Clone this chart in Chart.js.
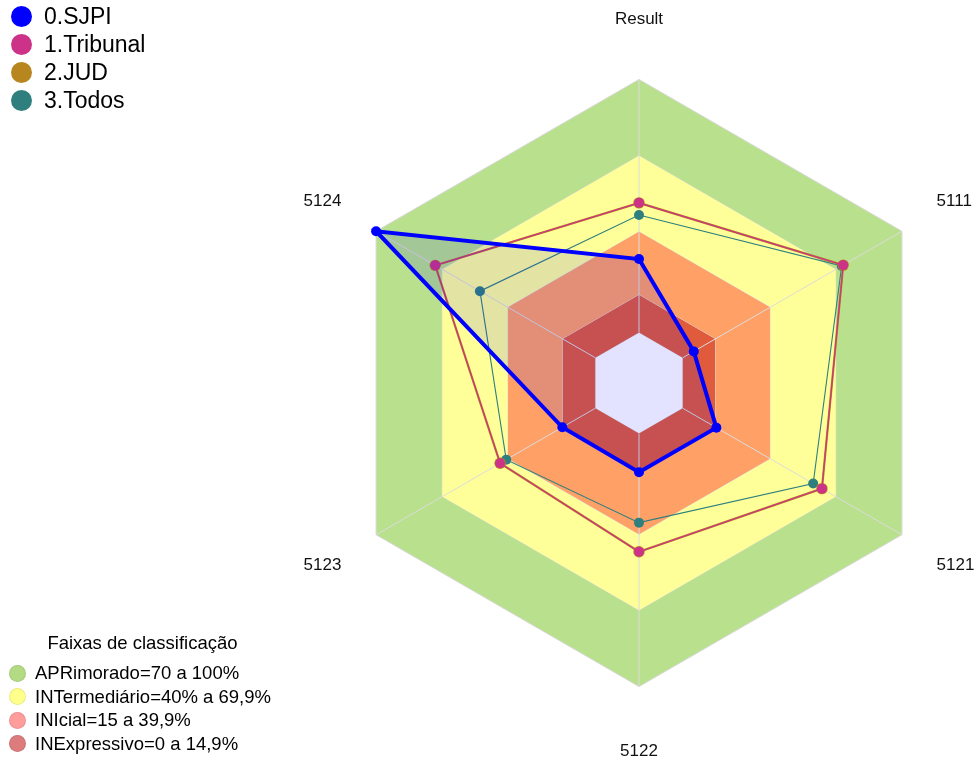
<!DOCTYPE html>
<html>
<head>
<meta charset="utf-8">
<script src="https://cdn.jsdelivr.net/npm/chart.js@4"></script>
<style>
  html, body { margin: 0; padding: 0; background: #ffffff; overflow: hidden; width: 977px; height: 760px; }
  body { position: relative; font-family: "Liberation Sans", Arial, sans-serif; color: #000; }
  #chart { position: absolute; left: 0; top: 0; }
  .leg { position: absolute; left: 0; }
  .row { position: absolute; display: flex; align-items: center; white-space: nowrap; }
  .dot { border-radius: 50%; flex: none; box-sizing: border-box; }
  #seriesLegend .row { font-size: 23px; }
  #seriesLegend .dot { width: 21px; height: 21px; margin-right: 12px; }
  #bandLegend .title { position: absolute; left: 0; width: 285px; text-align: center; font-size: 18.5px; }
  #bandLegend .row { font-size: 18.5px; }
  #bandLegend .dot { width: 17px; height: 17px; margin-right: 9px; border: 1px solid rgba(0,0,0,0.08); }
</style>
</head>
<body>
<canvas id="chart" width="1100" height="780"></canvas>
<div id="seriesLegend" class="leg"></div>
<div id="bandLegend" class="leg"></div>
<script>
// ---- data ----
const categories = ['Result', '5111', '5121', '5122', '5123', '5124'];
const seriesNames = ['0.SJPI', '1.Tribunal', '2.JUD', '3.Todos'];
const sjpiValues     = [29, 5, 15.3, 15.3, 15, 100];
const tribunalValues = [51.2, 73.2, 63.5, 46.7, 43.4, 73];
const judValues      = [51.2, 73.2, 63.5, 46.7, 43.4, 73];
const todosValues    = [46.4, 72.5, 59.5, 35.2, 40.6, 52.6];
const seriesColors = ['#0000FF', '#CC3388', '#B8861E', '#2F7F7F'];

const bandTitle = 'Faixas de classificação';
const bandNames = ['APRimorado=70 a 100%', 'INTermediário=40% a 69,9%', 'INIcial=15 a 39,9%', 'INExpressivo=0 a 14,9%'];
const bandLegendColors = ['#B3DB84', '#FFFF8C', '#FF9C9C', '#DC7C7C'];
const bandLimits = [100, 70, 40, 15, 0];
const bandFillColors = ['#B9E08C', '#FFFF99', '#FFA066', '#E05A3C', 'rgba(0,0,0,0)'];
const scaleMin = -20;
const scaleMax = 100;

// ---- datasets ----
const seriesValues = [sjpiValues, tribunalValues, judValues, todosValues];
const seriesStyle = [
  { borderWidth: 4, pointRadius: 5, fill: 'start', backgroundColor: 'rgba(0,0,255,0.11)' },
  { borderWidth: 1.2, pointRadius: 5, fill: false, backgroundColor: 'rgba(0,0,0,0)' },
  { borderWidth: 2.2, pointRadius: 5.7, fill: false, backgroundColor: 'rgba(0,0,0,0)' },
  { borderWidth: 1.1, pointRadius: 5, fill: false, backgroundColor: 'rgba(0,0,0,0)' }
];
const datasets = [];
seriesNames.forEach((name, i) => {
  datasets.push({
    label: name,
    data: seriesValues[i],
    borderColor: seriesColors[i],
    backgroundColor: seriesStyle[i].backgroundColor,
    borderWidth: seriesStyle[i].borderWidth,
    pointRadius: seriesStyle[i].pointRadius,
    pointHoverRadius: seriesStyle[i].pointRadius,
    pointBackgroundColor: seriesColors[i],
    pointBorderColor: seriesColors[i],
    pointBorderWidth: 0,
    fill: seriesStyle[i].fill,
    order: i
  });
});
const FIRST_BAND_INDEX = datasets.length;
bandLimits.forEach((lim, i) => {
  datasets.push({
    label: 'band' + lim,
    data: categories.map(() => lim),
    borderColor: '#D8D8D8',
    borderWidth: 1,
    backgroundColor: bandFillColors[i],
    pointRadius: 0,
    pointHoverRadius: 0,
    fill: i < bandLimits.length - 1 ? '+1' : false,
    order: 10
  });
});

// angle lines drawn above the bands but below the series
const spokes = {
  id: 'spokes',
  afterDatasetDraw(chart, args) {
    if (args.index !== FIRST_BAND_INDEX) return;
    const r = chart.scales.r;
    const ctx = chart.ctx;
    ctx.save();
    ctx.strokeStyle = '#DCDCDC';
    ctx.lineWidth = 1;
    for (let i = 0; i < categories.length; i++) {
      const a = r.getPointPositionForValue(i, 0);
      const b = r.getPointPositionForValue(i, r.max);
      ctx.beginPath();
      ctx.moveTo(a.x, a.y);
      ctx.lineTo(b.x, b.y);
      ctx.stroke();
    }
    ctx.restore();
  }
};

new Chart(document.getElementById('chart'), {
  type: 'radar',
  data: { labels: categories, datasets },
  options: {
    responsive: false,
    animation: false,
    layout: { padding: { left: 260, right: 82, top: 7, bottom: 15 } },
    elements: { line: { tension: 0 } },
    plugins: { legend: { display: false }, tooltip: { enabled: false } },
    scales: {
      r: {
        min: scaleMin,
        max: scaleMax,
        ticks: { display: false },
        grid: { display: false },
        angleLines: { display: false },
        pointLabels: {
          display: true,
          color: '#111111',
          font: { family: '"Liberation Sans", Arial, sans-serif', size: 17 },
          padding: (ctx) => ctx.index === 0 ? 50 : (ctx.index === 3 ? 55 : 40)
        }
      }
    }
  },
  plugins: [spokes]
});

// ---- HTML legends ----
const sl = document.getElementById('seriesLegend');
seriesNames.forEach((name, i) => {
  const row = document.createElement('div');
  row.className = 'row';
  row.style.left = '11px';
  row.style.top = (2.7 + i * 27.8) + 'px';
  row.style.height = '28px';
  const dot = document.createElement('span');
  dot.className = 'dot';
  dot.style.background = seriesColors[i];
  const txt = document.createElement('span');
  txt.textContent = name;
  row.appendChild(dot); row.appendChild(txt);
  sl.appendChild(row);
});
const bl = document.getElementById('bandLegend');
const title = document.createElement('div');
title.className = 'title';
title.textContent = bandTitle;
title.style.top = '632px';
bl.appendChild(title);
bandNames.forEach((name, i) => {
  const row = document.createElement('div');
  row.className = 'row';
  row.style.left = '9px';
  row.style.top = (661 + i * 23.5) + 'px';
  row.style.height = '24px';
  const dot = document.createElement('span');
  dot.className = 'dot';
  dot.style.background = bandLegendColors[i];
  const txt = document.createElement('span');
  txt.textContent = name;
  row.appendChild(dot); row.appendChild(txt);
  bl.appendChild(row);
});
</script>
</body>
</html>
